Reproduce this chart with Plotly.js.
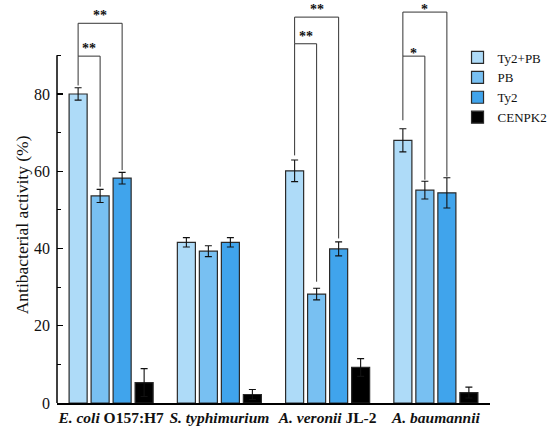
<!DOCTYPE html>
<html>
<head>
<meta charset="utf-8">
<script src="https://cdn.plot.ly/plotly-3.0.1.min.js"></script>
<style>html,body{margin:0;padding:0;background:#fff;}#chart{width:550px;height:431px;}</style>
</head>
<body>
<div id="chart"></div>
<script>
// ---- data ----
var categories = [
  "<b><i>E. coli</i> O157:H7</b>",
  "<b><i>S. typhimurium</i></b>",
  "<b><i>A. veronii</i> JL-2</b>",
  "<b><i>A. baumannii</i></b>"
];
var seriesNames = ["Ty2+PB", "PB", "Ty2", "CENPK2"];
var ty2pb = [80.0, 41.6, 60.1, 68.0];
var ty2pbErr = [1.6, 1.2, 2.8, 3.0];
var pb = [53.6, 39.3, 28.2, 55.1];
var pbErr = [1.7, 1.4, 1.5, 2.3];
var ty2 = [58.2, 41.6, 39.9, 54.4];
var ty2Err = [1.5, 1.2, 1.8, 3.9];
var cenpk2 = [5.3, 2.2, 9.2, 2.7];
var cenpk2Err = [3.6, 1.3, 2.3, 1.4];
var yTickVals = [0, 20, 40, 60, 80];
var yMinorVals = [10, 30, 50, 70, 90];
// significance brackets
var sigCat = [0, 0, 2, 2, 3, 3];
var sigBarA = [0, 0, 0, 0, 0, 0];
var sigBarB = [1, 2, 1, 2, 1, 2];
var sigLevel = [89.8, 98.3, 93.0, 99.9, 89.8, 101.2];
var sigLabel = ["**", "**", "**", "**", "*", "*"];
var sigBottomA = [82.2, 89.8, 64.1, 93.0, 73.2, 89.8];
var sigBottomB = [56.0, 60.3, 31.4, 42.6, 57.8, 58.6];

// ---- styling ----
var colors = ["#AEDBF8", "#78C0F2", "#40A4EC", "#000000"];
var serif = "Liberation Serif, Times New Roman, serif";
var bargap = 0.187;
var bargroupgap = 0.18;
var vals = [ty2pb, pb, ty2, cenpk2];
var errs = [ty2pbErr, pbErr, ty2Err, cenpk2Err];

var traces = seriesNames.map(function (n, i) {
  return {
    type: "bar",
    name: n,
    x: categories,
    y: vals[i],
    marker: { color: colors[i], line: { color: "#2a2a2a", width: 1.2 } },
    error_y: { type: "data", array: errs[i], visible: true, color: "#111", thickness: 1.1, width: 3.5 },
    hoverinfo: "none"
  };
});

var slot = (1 - bargap) / 4;
function barX(cat, k) { return cat + (k - 1.5) * slot; }

var shapes = [
  { type: "line", xref: "paper", yref: "y", x0: 0, x1: 0, y0: 0, y1: 90,
    line: { color: "#000", width: 1.5 } }
];
var annotations = [];
for (var s = 0; s < sigCat.length; s++) {
  var xa = barX(sigCat[s], sigBarA[s]);
  var xb = barX(sigCat[s], sigBarB[s]);
  var lc = { color: "#333", width: 1 };
  shapes.push({ type: "line", xref: "x", yref: "y", x0: xa, x1: xa, y0: sigBottomA[s], y1: sigLevel[s], line: lc });
  shapes.push({ type: "line", xref: "x", yref: "y", x0: xa, x1: xb, y0: sigLevel[s], y1: sigLevel[s], line: lc });
  shapes.push({ type: "line", xref: "x", yref: "y", x0: xb, x1: xb, y0: sigBottomB[s], y1: sigLevel[s], line: lc });
  annotations.push({
    xref: "x", yref: "y", x: (xa + xb) / 2, y: sigLevel[s], yanchor: "bottom",
    yshift: sigLabel[s].length > 1 ? -2 : -6.5,
    text: "<b>" + sigLabel[s] + "</b>", showarrow: false,
    font: { family: serif, size: 14, color: "#111" }
  });
}
annotations.push({
  xref: "paper", yref: "y", x: 0, y: 46, xanchor: "center", yanchor: "middle", xshift: -35,
  text: "Antibacterial activity (%)", textangle: -90, showarrow: false,
  font: { family: serif, size: 17.5, color: "#111" }
});

var layout = {
  width: 550, height: 431,
  margin: { l: 57, r: 60, t: 9, b: 28, autoexpand: false },
  paper_bgcolor: "#fff", plot_bgcolor: "#fff",
  barmode: "group", bargap: bargap, bargroupgap: bargroupgap,
  showlegend: true,
  legend: {
    x: 0.925, y: 0.915, xanchor: "left", yanchor: "top",
    font: { family: serif, size: 13, color: "#111" },
    bgcolor: "rgba(0,0,0,0)", tracegroupgap: 0
  },
  xaxis: {
    type: "category", range: [-0.5, 3.5], automargin: false,
    showline: true, linecolor: "#000", linewidth: 1.5,
    ticks: "", showgrid: false, zeroline: false, tickangle: 0,
    tickfont: { family: serif, size: 15.5, color: "#111" }
  },
  yaxis: {
    range: [0, 102], showline: false, showgrid: false, zeroline: false, automargin: false,
    tickmode: "array", tickvals: yTickVals, ticks: "inside", ticklen: 6, tickcolor: "#000", tickwidth: 1.2,
    minor: { tickmode: "array", tickvals: yMinorVals, ticks: "inside", ticklen: 4, tickcolor: "#000", tickwidth: 1.2, showgrid: false },
    ticklabelstandoff: 6,
    tickfont: { family: serif, size: 16, color: "#111" }
  },
  shapes: shapes,
  annotations: annotations
};

Plotly.newPlot("chart", traces, layout, { displayModeBar: false, staticPlot: true });
</script>
</body>
</html>
